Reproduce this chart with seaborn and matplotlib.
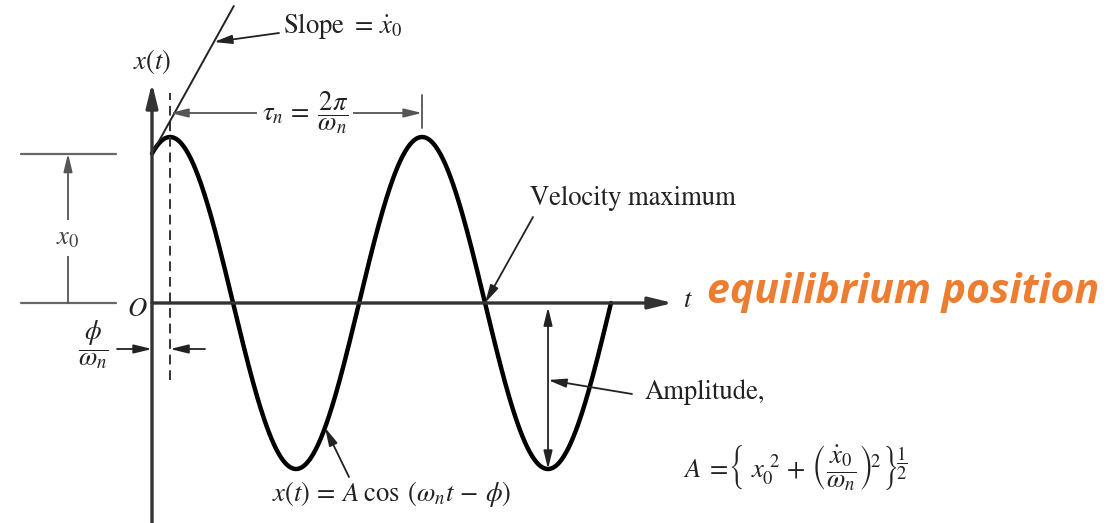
import numpy as np
import pandas as pd
import matplotlib
matplotlib.use("Agg")
import matplotlib.pyplot as plt
import seaborn as sns

# Free-vibration response x(t) = A cos(w_n t - phi)
amplitude = 1.0      # A
x0 = 0.9             # initial displacement
omega_n = 1.0        # natural frequency
quarter_turns = 7    # curve ends at the 4th zero crossing

phi = np.arccos(x0 / amplitude)
x0_dot = amplitude * omega_n * np.sin(phi)
tau_n = 2 * np.pi / omega_n

t_end = (phi + quarter_turns * np.pi / 2) / omega_n
t = np.linspace(0.0, t_end, 800)
resp = pd.DataFrame({"t": t, "x": amplitude * np.cos(omega_n * t - phi)})

# Characteristic instants
t_peak = phi / omega_n
t_vel_max = (phi + 2.5 * np.pi) / omega_n
t_trough = (phi + 3.0 * np.pi) / omega_n

# Layout: pixel placement helper for labels (origin of the plot at 152, 303)
W, H = 1117, 523
PX_T, PX_X = 40.1, 166.0
OX, OY = 152, 303


def px(xp, yp):
    return ((xp - OX) / PX_T, (OY - yp) / PX_X)


sns.set_style("white")
plt.rcParams["font.family"] = ["STIXGeneral", "DejaVu Serif"]
plt.rcParams["mathtext.fontset"] = "stix"

fig = plt.figure(figsize=(W / 100, H / 100), dpi=100)
ax = fig.add_axes([0, 0, 1, 1])
ax.set_xlim(px(0, 0)[0], px(W, 0)[0])
ax.set_ylim(px(0, H)[1], px(0, 0)[1])
ax.axis("off")

INK = "#222222"
AXC = "#333333"
DIM = "#555555"
FS = 19.2

head = "-|>,head_length=0.9,head_width=0.22"


def arrow(p_from, p_to, color=DIM, lw=1.3, style=head, ms=12):
    ax.annotate("", xy=p_to, xytext=p_from,
                arrowprops=dict(arrowstyle=style, color=color, lw=lw,
                                shrinkA=0, shrinkB=0, mutation_scale=ms))


# Coordinate axes
arrow((0, px(0, H)[1]), (0, px(0, 83)[1]), color=AXC, lw=2.4, ms=16)
arrow((0, 0), (px(673, 0)[0], 0), color=AXC, lw=2.4, ms=16)

# Response curve
sns.lineplot(data=resp, x="t", y="x", ax=ax, color="black", lw=3.2,
             sort=False, estimator=None, legend=False)
ax.set_xlabel("")
ax.set_ylabel("")
ax.axis("off")

# Dashed line through the first peak
ax.plot([t_peak, t_peak], [px(0, 380)[1], px(0, 93)[1]], color=AXC,
        lw=1.4, ls=(0, (5, 3)))

# Initial slope line
y_top = px(0, 6)[1]
ax.plot([0, (y_top - x0) / x0_dot], [x0, y_top], color=INK, lw=1.4)
y_s = px(0, 42)[1]
arrow(px(279, 33), ((y_s - x0) / x0_dot, y_s), color=INK)
ax.text(*px(283, 33), r"Slope $=\,\dot{x}_0$", fontsize=FS, color=INK,
        ha="left", va="baseline")

# Axis labels
ax.text(*px(152, 62), r"$x(t)$", fontsize=FS, color=INK, ha="center", va="center")
ax.text(*px(137, 309), r"$O$", fontsize=FS, color=INK, ha="center", va="center")
ax.text(*px(688, 300), r"$t$", fontsize=FS, color=INK, ha="center", va="center")

# Period dimension
y_tau = px(0, 113)[1]
ax.annotate("", xy=(t_peak + tau_n, y_tau), xytext=(t_peak, y_tau),
            arrowprops=dict(arrowstyle="<|-|>,head_length=0.9,head_width=0.22",
                            color=DIM, lw=1.3, shrinkA=0, shrinkB=0,
                            mutation_scale=12))
ax.plot([t_peak + tau_n] * 2, [px(0, 95)[1], px(0, 128)[1]], color=DIM, lw=1.3)
ax.text(*px(305, 113), r"$\tau_n\,=\;\dfrac{2\pi}{\omega_n}$", fontsize=FS,
        color=INK, ha="center", va="center",
        bbox=dict(fc="white", ec="none", pad=3))

# Initial displacement dimension
xl, xr = px(21, 0)[0], px(116, 0)[0]
ax.plot([xl, xr], [x0, x0], color="#666666", lw=1.6)
ax.plot([xl, xr], [0, 0], color="#666666", lw=1.6)
x_dim = px(68, 0)[0]
arrow((x_dim, 0), (x_dim, x0), color=DIM)
ax.text(*px(68, 238), r"$x_0$", fontsize=FS, color="#444444", ha="center",
        va="center", bbox=dict(fc="white", ec="none", pad=4))

# Phase lag dimension
y_phi = px(0, 349)[1]
arrow((px(117, 0)[0], y_phi), (0, y_phi), color=INK)
arrow((px(205, 0)[0], y_phi), (t_peak, y_phi), color=INK)
ax.text(*px(93, 345), r"$\dfrac{\phi}{\omega_n}$", fontsize=FS, color=INK,
        ha="center", va="center")

# Velocity maximum
arrow(px(533, 217), (t_vel_max, 0), color=INK)
ax.text(*px(530, 198), "Velocity maximum", fontsize=FS, color=INK,
        ha="left", va="center")

# Amplitude
ax.annotate("", xy=(t_trough, -amplitude), xytext=(t_trough, 0),
            arrowprops=dict(arrowstyle="<|-|>,head_length=0.9,head_width=0.22",
                            color=INK, lw=1.3, shrinkA=3, shrinkB=0,
                            mutation_scale=12))
arrow(px(632, 394), (t_trough, px(0, 380)[1]), color=INK)
ax.text(*px(645, 392), "Amplitude,", fontsize=FS, color=INK,
        ha="left", va="center")
ax.text(*px(683, 468),
        r"$A\;=\!\left\{\;x_0^{\ 2}\,+\,\left(\dfrac{\dot{x}_0}{\omega_n}\right)^{\!2}\right\}^{\!\dfrac{1}{2}}$",
        fontsize=FS, color=INK, ha="left", va="center")

# Response label
t_c = px(325, 0)[0]
arrow(px(349, 477), (t_c, amplitude * np.cos(omega_n * t_c - phi)), color=INK)
ax.text(*px(272, 494), r"$x(t)\,=\,A\;\cos\;(\omega_n t\,-\,\phi)$",
        fontsize=FS, color=INK, ha="left", va="center")

# Equilibrium position note
ax.text(*px(707, 303), "equilibrium position", fontsize=29.5, color="#ED7D31",
        family="Open Sans", weight="bold", style="italic",
        ha="left", va="baseline")

fig.savefig("out.png", dpi=100)
